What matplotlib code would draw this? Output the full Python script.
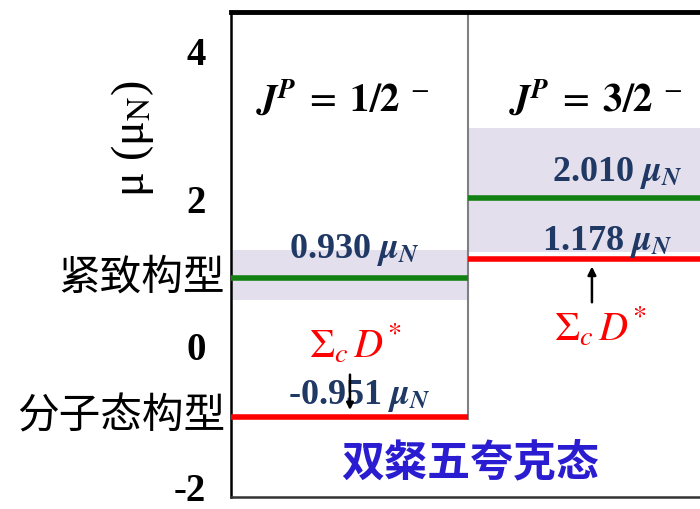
import matplotlib
matplotlib.use("Agg")
import matplotlib.pyplot as plt
from matplotlib.transforms import blended_transform_factory, ScaledTranslation

plt.rcParams.update({
    "font.family": ["Liberation Serif", "Noto Sans CJK SC"],
    "mathtext.fontset": "stix",
})

# ---- data -----------------------------------------------------------------
spins = ["1/2", "3/2"]
compact_mu = [0.930, 2.010]          # green levels
molecular_mu = [-0.951, 1.178]       # red levels (Sigma_c D*)
band_lo = [0.63, 1.28]               # shaded uncertainty bands
band_hi = [1.31, 2.96]
label_y = [(1.31, -0.67), (2.35, 1.41)]   # (compact, molecular) label heights
yticks = [4, 2, 0, -2]

NAVY = "#1F3864"
GREEN = "#128012"
RED = "#FF0000"
BAND = "#E4DFEC"
MU = r"$\mathbfit{\mu}_{\mathbfit{N}}$"

fig = plt.figure(figsize=(7.0, 5.09), dpi=100)
ax = fig.add_axes([231 / 700, 12 / 509, 1 - 231 / 700, 485 / 509])
ax.set_xlim(0, 1.979)
ax.set_ylim(-2.04, 4.53)

for i, s in enumerate(spins):
    ax.fill_between([i, i + 1], band_lo[i], band_hi[i], color=BAND, lw=0, zorder=1)
    ax.hlines(compact_mu[i], i, i + 1, color=GREEN, lw=4, zorder=3)
    ax.hlines(molecular_mu[i], i, i + 1, color=RED, lw=4, zorder=3)
    ax.text(i + 0.47 + 0.07 * i, 3.34,
            r"$\mathbfit{J}^{\mathbfit{P}}\;=\;\mathbf{%s}^{\ -}$" % s,
            fontsize=28, ha="center", va="center", zorder=5)
    yc, ym = label_y[i]
    ax.text(i + 0.52 + 0.11 * i, yc, f"{compact_mu[i]:.3f} " + MU, fontsize=26,
            fontweight="bold", color=NAVY, ha="center", va="center", zorder=5)
    ax.text(i + 0.54 + 0.05 * i, ym, f"{molecular_mu[i]:.3f} " + MU, fontsize=26,
            fontweight="bold", color=NAVY, ha="center", va="center", zorder=5)

# panel divider
ax.vlines(1, -1.0, 4.53, color="#808080", lw=1.5, zorder=2)

# Sigma_c D* labels with arrows
ax.text(0.523, 0.02, r"$\Sigma_c\,D^{*}$", fontsize=29, color=RED,
        ha="center", va="center", zorder=5)
ax.text(1.557, 0.25, r"$\Sigma_c\,D^{*}$", fontsize=29, color=RED,
        ha="center", va="center", zorder=5)
ax.annotate("", xy=(1.523, 1.12), xytext=(1.523, 0.56),
            arrowprops=dict(arrowstyle="-|>", color="black", lw=1.8, mutation_scale=12))
ax.annotate("", xy=(0.502, -0.90), xytext=(0.502, -0.345),
            arrowprops=dict(arrowstyle="-|>", color="black", lw=1.8, mutation_scale=10),
            zorder=6)

ax.text(1.01, -1.58, "双粲五夸克态", fontsize=31, fontweight="bold",
        color="#2A1CD0", family="Noto Sans CJK SC", ha="center", va="center")

# axes styling
ax.set_xticks([])
ax.set_yticks(yticks)
ax.set_yticklabels([str(t) for t in yticks], fontsize=28, fontweight="bold")
ax.tick_params(axis="y", length=0, pad=18)
# lift the bottom label a little so it stays inside the canvas
low = ax.get_yticklabels()[-1]
low.set_transform(low.get_transform() + ScaledTranslation(0, 7 / 100, fig.dpi_scale_trans))
ax.spines["right"].set_visible(False)
ax.spines["top"].set_linewidth(3.5)
ax.spines["left"].set_linewidth(1.8)
ax.spines["bottom"].set_linewidth(1.8)
ax.spines["bottom"].set_color("#333333")

ax.set_ylabel(r"μ (μ$_\mathrm{N}$)", fontsize=33, labelpad=0)
ax.yaxis.set_label_coords(-0.16, 0.74)

tr = blended_transform_factory(fig.transFigure, ax.transData)
ax.text(225 / 700, compact_mu[0], "紧致构型", fontsize=30, family="Noto Sans CJK SC",
        ha="right", va="center", transform=tr)
ax.text(225 / 700, molecular_mu[0], "分子态构型", fontsize=30, family="Noto Sans CJK SC",
        ha="right", va="center", transform=tr)

fig.savefig("out.png", dpi=100)
